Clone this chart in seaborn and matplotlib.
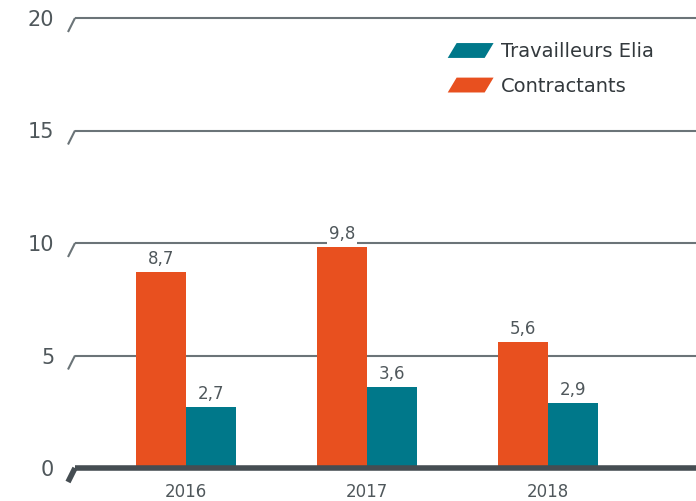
import numpy as np
import pandas as pd
import matplotlib
matplotlib.use('Agg')
import matplotlib.pyplot as plt
import seaborn as sns
from matplotlib.patches import Polygon
from matplotlib.legend_handler import HandlerPatch
import matplotlib.transforms as mtransforms

# data
years = ['2016', '2017', '2018']
contractants = [8.7, 9.8, 5.6]
travailleurs = [2.7, 3.6, 2.9]
yticks = [0, 5, 10, 15, 20]

c_orange = '#e8501f'
c_teal = '#00788a'
c_text = '#4f575b'

df = pd.DataFrame({
    'year': years * 2,
    'value': contractants + travailleurs,
    'serie': ['Contractants'] * 3 + ['Travailleurs Elia'] * 3,
})

sns.set_style('white')
plt.rcParams['font.family'] = ['DejaVu Sans']

fig = plt.figure(figsize=(6.96, 5.01), dpi=100)
ax = fig.add_axes([75 / 696, 1 - 468 / 501, 621 / 696, 450 / 501])

sns.barplot(data=df, x='year', y='value', hue='serie',
            hue_order=['Contractants', 'Travailleurs Elia'],
            palette=[c_orange, c_teal], width=0.55, saturation=1,
            linewidth=0, edgecolor='none',
            ax=ax, zorder=3, legend=False)

ax.set_xlim(-0.613, 2.818)
ax.set_ylim(0, 20)
ax.set_xlabel('')
ax.set_ylabel('')
for s in ax.spines.values():
    s.set_visible(False)

# gridlines + slanted tick marks
tr = mtransforms.blended_transform_factory(ax.transAxes, ax.transData)
for v in yticks:
    lw = 4 if v == 0 else 1.5
    col = '#454d52' if v == 0 else '#6b7478'
    ax.plot([0, 1], [v, v], transform=tr, color=col, lw=lw, zorder=2 if v else 4,
            clip_on=False, solid_capstyle='butt')
    ax.plot([-7 / 621, 0], [v - 14 / 22.5, v], transform=tr, color=col, lw=lw,
            zorder=4, clip_on=False, solid_capstyle='butt')

ax.set_yticks(yticks)
ax.set_yticklabels([str(v) for v in yticks])
ax.tick_params(axis='y', length=0, pad=15, labelsize=15, labelcolor=c_text)
ax.tick_params(axis='x', length=0, pad=11, labelsize=12, labelcolor=c_text)

for cont in ax.containers:
    labels = [f"{b.get_height():.1f}".replace('.', ',') for b in cont]
    ax.bar_label(cont, labels=labels, padding=3, fontsize=12, color=c_text,
                 bbox=dict(facecolor='white', edgecolor='none', pad=1.5), zorder=5)


class SlantHandler(HandlerPatch):
    def create_artists(self, legend, orig_handle, xdescent, ydescent, width,
                       height, fontsize, trans):
        sk = height * 0.3
        pts = [[-xdescent + sk, -ydescent + height],
               [-xdescent + width + sk, -ydescent + height],
               [-xdescent + width - sk, -ydescent],
               [-xdescent - sk, -ydescent]]
        p = Polygon(pts, closed=True, facecolor=orig_handle.get_facecolor(),
                    edgecolor='none', transform=trans)
        return [p]


h1 = Polygon([[0, 0]], facecolor=c_teal)
h2 = Polygon([[0, 0]], facecolor=c_orange)
ax.legend([h1, h2], ['Travailleurs Elia', 'Contractants'],
          handler_map={Polygon: SlantHandler()}, loc='upper right',
          bbox_to_anchor=(0.96, 0.985), frameon=False, fontsize=14,
          handlelength=1.9, handleheight=0.8, labelspacing=0.8,
          handletextpad=0.6, labelcolor='#33393d')

fig.savefig('out.png', dpi=100)
